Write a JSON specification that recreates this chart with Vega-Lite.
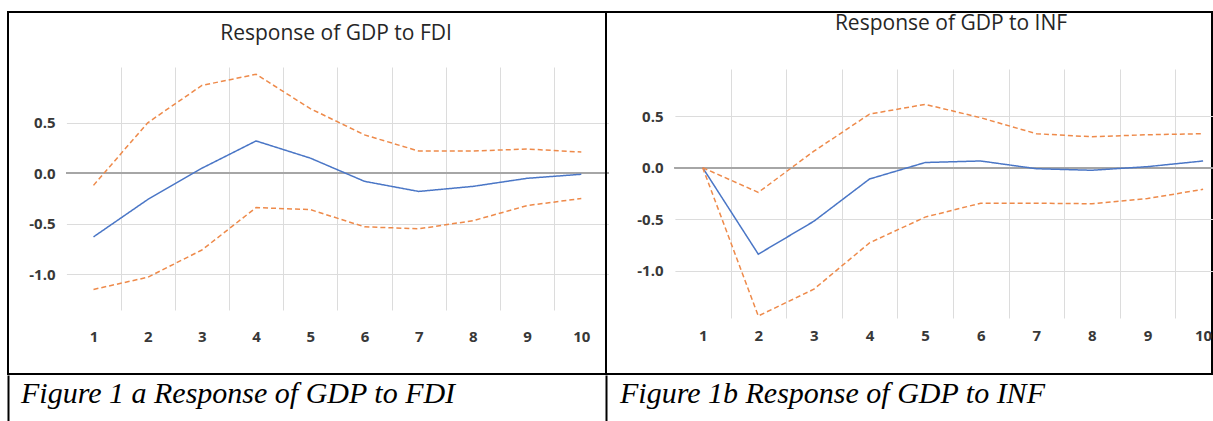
{
  "$schema": "https://vega.github.io/schema/vega-lite/v6.json",
  "padding": {"left": 7, "top": 11, "right": 0, "bottom": 0},
  "background": "white",
  "spacing": 0,
  "config": {
    "view": {"stroke": "black", "strokeWidth": 2},
    "axis": {"labelFont": "Open Sans", "labelFontSize": 15, "labelColor": "#383838", "labelFontWeight": "bold"}
  },
  "datasets": {
    "irf": [
      {"panel": "FDI", "series": "Response", "period": 1, "value": -0.63},
      {"panel": "FDI", "series": "Response", "period": 2, "value": -0.26},
      {"panel": "FDI", "series": "Response", "period": 3, "value": 0.05},
      {"panel": "FDI", "series": "Response", "period": 4, "value": 0.32},
      {"panel": "FDI", "series": "Response", "period": 5, "value": 0.15},
      {"panel": "FDI", "series": "Response", "period": 6, "value": -0.08},
      {"panel": "FDI", "series": "Response", "period": 7, "value": -0.18},
      {"panel": "FDI", "series": "Response", "period": 8, "value": -0.13},
      {"panel": "FDI", "series": "Response", "period": 9, "value": -0.05},
      {"panel": "FDI", "series": "Response", "period": 10, "value": -0.01},
      {"panel": "FDI", "series": "Upper", "period": 1, "value": -0.12},
      {"panel": "FDI", "series": "Upper", "period": 2, "value": 0.50},
      {"panel": "FDI", "series": "Upper", "period": 3, "value": 0.87},
      {"panel": "FDI", "series": "Upper", "period": 4, "value": 0.98},
      {"panel": "FDI", "series": "Upper", "period": 5, "value": 0.64},
      {"panel": "FDI", "series": "Upper", "period": 6, "value": 0.38},
      {"panel": "FDI", "series": "Upper", "period": 7, "value": 0.22},
      {"panel": "FDI", "series": "Upper", "period": 8, "value": 0.22},
      {"panel": "FDI", "series": "Upper", "period": 9, "value": 0.24},
      {"panel": "FDI", "series": "Upper", "period": 10, "value": 0.21},
      {"panel": "FDI", "series": "Lower", "period": 1, "value": -1.15},
      {"panel": "FDI", "series": "Lower", "period": 2, "value": -1.03},
      {"panel": "FDI", "series": "Lower", "period": 3, "value": -0.76},
      {"panel": "FDI", "series": "Lower", "period": 4, "value": -0.34},
      {"panel": "FDI", "series": "Lower", "period": 5, "value": -0.36},
      {"panel": "FDI", "series": "Lower", "period": 6, "value": -0.53},
      {"panel": "FDI", "series": "Lower", "period": 7, "value": -0.55},
      {"panel": "FDI", "series": "Lower", "period": 8, "value": -0.47},
      {"panel": "FDI", "series": "Lower", "period": 9, "value": -0.32},
      {"panel": "FDI", "series": "Lower", "period": 10, "value": -0.25},
      {"panel": "INF", "series": "Response", "period": 1, "value": 0.0},
      {"panel": "INF", "series": "Response", "period": 2, "value": -0.84},
      {"panel": "INF", "series": "Response", "period": 3, "value": -0.52},
      {"panel": "INF", "series": "Response", "period": 4, "value": -0.11},
      {"panel": "INF", "series": "Response", "period": 5, "value": 0.05},
      {"panel": "INF", "series": "Response", "period": 6, "value": 0.065},
      {"panel": "INF", "series": "Response", "period": 7, "value": -0.01},
      {"panel": "INF", "series": "Response", "period": 8, "value": -0.025},
      {"panel": "INF", "series": "Response", "period": 9, "value": 0.01},
      {"panel": "INF", "series": "Response", "period": 10, "value": 0.065},
      {"panel": "INF", "series": "Upper", "period": 1, "value": 0.0},
      {"panel": "INF", "series": "Upper", "period": 2, "value": -0.24},
      {"panel": "INF", "series": "Upper", "period": 3, "value": 0.16},
      {"panel": "INF", "series": "Upper", "period": 4, "value": 0.52},
      {"panel": "INF", "series": "Upper", "period": 5, "value": 0.615},
      {"panel": "INF", "series": "Upper", "period": 6, "value": 0.485},
      {"panel": "INF", "series": "Upper", "period": 7, "value": 0.33},
      {"panel": "INF", "series": "Upper", "period": 8, "value": 0.30},
      {"panel": "INF", "series": "Upper", "period": 9, "value": 0.32},
      {"panel": "INF", "series": "Upper", "period": 10, "value": 0.33},
      {"panel": "INF", "series": "Lower", "period": 1, "value": 0.0},
      {"panel": "INF", "series": "Lower", "period": 2, "value": -1.44},
      {"panel": "INF", "series": "Lower", "period": 3, "value": -1.18},
      {"panel": "INF", "series": "Lower", "period": 4, "value": -0.73},
      {"panel": "INF", "series": "Lower", "period": 5, "value": -0.48},
      {"panel": "INF", "series": "Lower", "period": 6, "value": -0.345},
      {"panel": "INF", "series": "Lower", "period": 7, "value": -0.345},
      {"panel": "INF", "series": "Lower", "period": 8, "value": -0.35},
      {"panel": "INF", "series": "Lower", "period": 9, "value": -0.30},
      {"panel": "INF", "series": "Lower", "period": 10, "value": -0.21}
    ],
    "captions": [
      {"panel": "FDI", "caption": "Figure 1 a Response of GDP to FDI"},
      {"panel": "INF", "caption": "Figure 1b Response of GDP to INF"}
    ]
  },
  "vconcat": [
    {
      "bounds": "flush",
      "spacing": 0,
      "hconcat": [
        {
          "width": 598,
          "height": 362,
          "data": {"name": "irf"},
          "title": {"text": "Response of GDP to FDI", "offset": -43, "dx": 29, "baseline": "middle", "anchor": "middle", "font": "Open Sans", "fontSize": 21, "fontWeight": "normal", "color": "#262626"},
          "layer": [
            {
              "mark": {"type": "rule", "color": "#a6a6a6", "strokeWidth": 1.5},
              "encoding": {
                "x": {"datum": 0.5, "type": "quantitative",
                  "scale": {"domain": [0.5, 10.5], "range": [58.4, 600.4], "zero": false, "nice": false},
                  "axis": {"orient": "bottom", "values": [1.5, 2.5, 3.5, 4.5, 5.5, 6.5, 7.5, 8.5, 9.5], "grid": true, "gridColor": "#dcdcdc", "gridWidth": 1, "labels": false, "ticks": false, "domain": false, "title": null}},
                "x2": {"datum": 10.5},
                "y": {"datum": 0, "type": "quantitative",
                  "scale": {"domain": [-1.443, 0.963], "range": [307, 64], "zero": false, "nice": false},
                  "axis": {"orient": "left", "values": [-1, -0.5, 0, 0.5], "offset": -47, "labelPadding": 0, "tickSize": 0, "ticks": false, "domain": false, "grid": true, "gridColor": "#dcdcdc", "labelExpr": "replace(format(datum.value, '.1f'), '−', '-')", "title": null}}
              }
            },
            {
              "transform": [{"filter": "datum.panel == 'FDI'"}],
              "mark": {"type": "line", "strokeWidth": 1.5},
              "encoding": {
                "x": {"field": "period", "type": "quantitative",
                  "axis": {"orient": "bottom", "values": [1, 2, 3, 4, 5, 6, 7, 8, 9, 10], "offset": -38, "labelBaseline": "middle", "labelPadding": 0, "tickSize": 0, "ticks": false, "domain": false, "grid": false, "title": null}},
                "y": {"field": "value", "type": "quantitative", "axis": null},
                "color": {"field": "series", "type": "nominal", "scale": {"domain": ["Response", "Upper", "Lower"], "range": ["#4a76c6", "#ee8a4a", "#ee8a4a"]}, "legend": null},
                "strokeDash": {"field": "series", "type": "nominal", "scale": {"domain": ["Response", "Upper", "Lower"], "range": [[1, 0], [5, 3], [5, 3]]}, "legend": null}
              }
            }
          ],
          "resolve": {"axis": {"x": "independent", "y": "independent"}}
        },
        {
          "width": 606,
          "height": 362,
          "data": {"name": "irf"},
          "title": {"text": "Response of GDP to INF", "offset": -33, "dx": 42, "baseline": "middle", "anchor": "middle", "font": "Open Sans", "fontSize": 21, "fontWeight": "normal", "color": "#262626"},
          "layer": [
            {
              "mark": {"type": "rule", "color": "#a6a6a6", "strokeWidth": 1.5},
              "encoding": {
                "x": {"datum": 0.5, "type": "quantitative",
                  "scale": {"domain": [0.5, 10.5], "range": [68.9, 624.9], "zero": false, "nice": false},
                  "axis": {"orient": "bottom", "values": [1.5, 2.5, 3.5, 4.5, 5.5, 6.5, 7.5, 8.5, 9.5], "grid": true, "gridColor": "#dcdcdc", "gridWidth": 1, "labels": false, "ticks": false, "domain": false, "title": null}},
                "x2": {"datum": 10.5},
                "y": {"datum": 0, "type": "quantitative",
                  "scale": {"domain": [-1.45, 0.968], "range": [305, 56], "zero": false, "nice": false},
                  "axis": {"orient": "left", "values": [-1, -0.5, 0, 0.5], "offset": -57, "labelPadding": 0, "tickSize": 0, "ticks": false, "domain": false, "grid": true, "gridColor": "#dcdcdc", "labelExpr": "replace(format(datum.value, '.1f'), '−', '-')", "title": null}}
              }
            },
            {
              "transform": [{"filter": "datum.panel == 'INF'"}],
              "mark": {"type": "line", "strokeWidth": 1.5},
              "encoding": {
                "x": {"field": "period", "type": "quantitative",
                  "axis": {"orient": "bottom", "values": [1, 2, 3, 4, 5, 6, 7, 8, 9, 10], "offset": -39, "labelBaseline": "middle", "labelPadding": 0, "tickSize": 0, "ticks": false, "domain": false, "grid": false, "title": null}},
                "y": {"field": "value", "type": "quantitative", "axis": null},
                "color": {"field": "series", "type": "nominal", "scale": {"domain": ["Response", "Upper", "Lower"], "range": ["#4a76c6", "#ee8a4a", "#ee8a4a"]}, "legend": null},
                "strokeDash": {"field": "series", "type": "nominal", "scale": {"domain": ["Response", "Upper", "Lower"], "range": [[1, 0], [5, 3], [5, 3]]}, "legend": null}
              }
            }
          ],
          "resolve": {"axis": {"x": "independent", "y": "independent"}}
        }
      ]
    },
    {
      "bounds": "flush",
      "spacing": 0,
      "hconcat": [
        {
          "width": 598,
          "height": 46,
          "view": {"stroke": null},
          "data": {"name": "captions"},
          "transform": [{"filter": "datum.panel == 'FDI'"}],
          "mark": {"type": "text", "align": "left", "baseline": "alphabetic", "font": "Liberation Serif", "fontStyle": "italic", "fontSize": 30, "color": "black", "dx": 13, "dy": 5},
          "encoding": {
            "text": {"field": "caption"},
            "x": {"datum": 0, "type": "quantitative", "scale": {"domain": [0, 1]}, "axis": null},
            "y": {"datum": 0, "type": "quantitative", "scale": {"domain": [-1, 1], "nice": false}, "axis": {"orient": "left", "domain": true, "domainColor": "black", "domainWidth": 2, "labels": false, "ticks": false, "grid": false, "title": null}}
          }
        },
        {
          "width": 606,
          "height": 46,
          "view": {"stroke": null},
          "data": {"name": "captions"},
          "transform": [{"filter": "datum.panel == 'INF'"}],
          "mark": {"type": "text", "align": "left", "baseline": "alphabetic", "font": "Liberation Serif", "fontStyle": "italic", "fontSize": 30, "color": "black", "dx": 14, "dy": 5},
          "encoding": {
            "text": {"field": "caption"},
            "x": {"datum": 0, "type": "quantitative", "scale": {"domain": [0, 1]}, "axis": null},
            "y": {"datum": 0, "type": "quantitative", "scale": {"domain": [-1, 1], "nice": false}, "axis": {"orient": "left", "domain": true, "domainColor": "black", "domainWidth": 2, "labels": false, "ticks": false, "grid": false, "title": null}}
          }
        }
      ]
    }
  ]
}
